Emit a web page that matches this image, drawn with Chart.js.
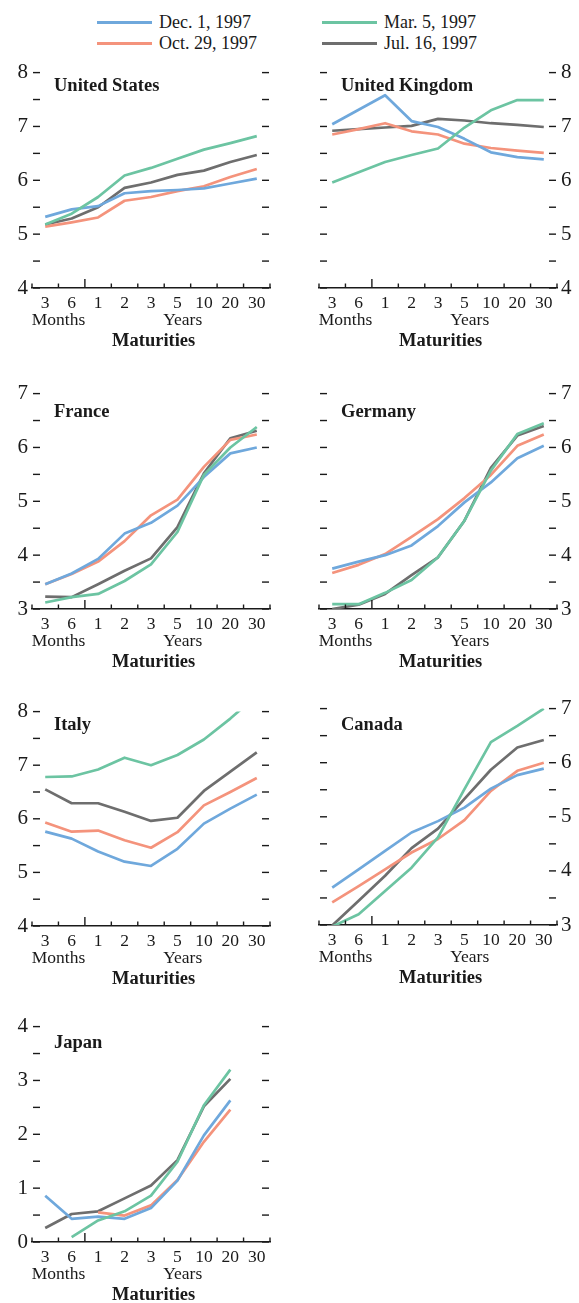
<!DOCTYPE html>
<html>
<head>
<meta charset="utf-8">
<script src="https://cdn.jsdelivr.net/npm/chart.js@4.4.1/dist/chart.umd.min.js"></script>
<style>
  html, body { margin: 0; padding: 0; background: #fff; width: 579px; height: 1303px; overflow: hidden; }
  #wrap { position: relative; width: 579px; height: 1303px; }
  canvas { position: absolute; }
  .lg { position: absolute; font-family: "Liberation Serif", "Times New Roman", serif; font-size: 18px; color: #1a1a1a; line-height: 20px; white-space: nowrap; }
  .sw { position: absolute; height: 3px; }
</style>
</head>
<body>
<div id="wrap"></div>
<script>
// ---------------- DATA ----------------
const categories = ['3', '6', '1', '2', '3', '5', '10', '20', '30'];
const seriesNames = ['Dec. 1, 1997', 'Mar. 5, 1997', 'Oct. 29, 1997', 'Jul. 16, 1997'];

const US_DEC1  = [5.32, 5.46, 5.52, 5.76, 5.80, 5.82, 5.85, 5.94, 6.03];
const US_MAR5  = [5.18, 5.38, 5.69, 6.09, 6.23, 6.40, 6.57, 6.69, 6.82];
const US_OCT29 = [5.14, 5.22, 5.31, 5.62, 5.69, 5.80, 5.89, 6.06, 6.21];
const US_JUL16 = [5.18, 5.29, 5.50, 5.86, 5.96, 6.10, 6.18, 6.34, 6.47];

const UK_DEC1  = [7.04, 7.31, 7.58, 7.10, 6.99, 6.77, 6.52, 6.43, 6.39];
const UK_MAR5  = [5.96, 6.15, 6.34, 6.47, 6.59, 6.98, 7.30, 7.49, 7.49];
const UK_OCT29 = [6.85, 6.95, 7.06, 6.91, 6.85, 6.68, 6.60, 6.55, 6.51];
const UK_JUL16 = [6.92, 6.95, 6.98, 7.01, 7.14, 7.11, 7.06, 7.03, 6.99];

const FR_DEC1  = [3.46, 3.66, 3.93, 4.40, 4.60, 4.92, 5.45, 5.89, 6.00];
const FR_MAR5  = [3.12, 3.22, 3.28, 3.52, 3.83, 4.43, 5.49, 6.00, 6.38];
const FR_OCT29 = [3.46, 3.65, 3.88, 4.26, 4.74, 5.03, 5.64, 6.14, 6.24];
const FR_JUL16 = [3.23, 3.22, 3.46, 3.71, 3.94, 4.52, 5.52, 6.17, 6.31];

const DE_DEC1  = [3.75, 3.88, 4.00, 4.18, 4.54, 4.98, 5.35, 5.80, 6.03];
const DE_MAR5  = [3.09, 3.09, 3.30, 3.54, 3.96, 4.64, 5.57, 6.25, 6.45];
const DE_OCT29 = [3.67, 3.82, 4.02, 4.34, 4.67, 5.06, 5.49, 6.03, 6.24];
const DE_JUL16 = [3.00, 3.08, 3.28, 3.63, 3.96, 4.64, 5.62, 6.22, 6.40];

const IT_DEC1  = [5.76, 5.63, 5.39, 5.20, 5.12, 5.44, 5.91, 6.19, 6.45];
const IT_MAR5  = [6.78, 6.79, 6.92, 7.14, 7.00, 7.19, 7.48, 7.87, 8.30];
const IT_OCT29 = [5.93, 5.76, 5.78, 5.60, 5.46, 5.75, 6.25, 6.50, 6.76];
const IT_JUL16 = [6.55, 6.29, 6.29, 6.13, 5.96, 6.02, 6.52, 6.88, 7.24];

const CA_DEC1  = [3.69, 4.03, 4.37, 4.71, 4.92, 5.17, 5.52, 5.77, 5.89];
const CA_MAR5  = [2.97, 3.20, 3.63, 4.06, 4.62, 5.51, 6.38, 6.68, 7.00];
const CA_OCT29 = [3.42, 3.72, 4.03, 4.34, 4.59, 4.94, 5.48, 5.85, 6.00];
const CA_JUL16 = [2.99, 3.45, 3.91, 4.42, 4.78, 5.33, 5.87, 6.28, 6.42];

const JP_DEC1  = [0.86, 0.43, 0.47, 0.43, 0.63, 1.14, 1.98, 2.63, null];
const JP_MAR5  = [null, 0.09, 0.40, 0.57, 0.86, 1.49, 2.54, 3.20, null];
const JP_OCT29 = [null, null, 0.55, 0.49, 0.68, 1.15, 1.86, 2.46, null];
const JP_JUL16 = [0.26, 0.52, 0.57, 0.81, 1.05, 1.52, 2.52, 3.03, null];

// ---------------- STYLE / LAYOUT ----------------
const COLORS = { dec: '#6fa8dc', mar: '#6cc4a2', oct: '#f4937c', jul: '#6e6e6e' };
const SERIF = '"Liberation Serif", "Times New Roman", serif';
const INK = '#1a1a1a';

const panels = [
  { name: 'United States',  col: 0, top: 71.5,  bottom: 287.5,  min: 4, max: 8, titleDy: 18, d: [US_DEC1, US_MAR5, US_OCT29, US_JUL16] },
  { name: 'United Kingdom', col: 1, top: 71.5,  bottom: 287.5,  min: 4, max: 8, titleDy: 18, d: [UK_DEC1, UK_MAR5, UK_OCT29, UK_JUL16] },
  { name: 'France',         col: 0, top: 392.7, bottom: 609,    min: 3, max: 7, titleDy: 23, d: [FR_DEC1, FR_MAR5, FR_OCT29, FR_JUL16] },
  { name: 'Germany',        col: 1, top: 392.7, bottom: 609,    min: 3, max: 7, titleDy: 23, d: [DE_DEC1, DE_MAR5, DE_OCT29, DE_JUL16] },
  { name: 'Italy',          col: 0, top: 711,   bottom: 926,    min: 4, max: 8, titleDy: 18, d: [IT_DEC1, IT_MAR5, IT_OCT29, IT_JUL16] },
  { name: 'Canada',         col: 1, top: 707.7, bottom: 924.3,  min: 3, max: 7, titleDy: 21, d: [CA_DEC1, CA_MAR5, CA_OCT29, CA_JUL16] },
  { name: 'Japan',          col: 0, top: 1026,  bottom: 1242.3, min: 0, max: 4, titleDy: 21, d: [JP_DEC1, JP_MAR5, JP_OCT29, JP_JUL16] }
];

const PAD_TOP = 16;
const X_AXIS_H = 66;

// ---------------- LEGEND (HTML) ----------------
const wrap = document.getElementById('wrap');
const legendItems = [
  { label: seriesNames[0], color: COLORS.dec, x: 97,  y: 22.7 },
  { label: seriesNames[1], color: COLORS.mar, x: 322, y: 22.7 },
  { label: seriesNames[2], color: COLORS.oct, x: 97,  y: 43.7 },
  { label: seriesNames[3], color: COLORS.jul, x: 322, y: 43.7 }
];
legendItems.forEach(it => {
  const sw = document.createElement('div');
  sw.className = 'sw';
  sw.style.left = it.x + 'px';
  sw.style.top = (it.y - 1.5) + 'px';
  sw.style.width = '55px';
  sw.style.background = it.color;
  wrap.appendChild(sw);
  const t = document.createElement('div');
  t.className = 'lg';
  t.style.left = (it.x + 62) + 'px';
  t.style.top = (it.y - 11) + 'px';
  t.textContent = it.label;
  wrap.appendChild(t);
});

// ---------------- DECORATION PLUGIN ----------------
const decor = {
  id: 'decor',
  afterDraw(chart, args, opts) {
    const { ctx, chartArea: a } = chart;
    const x = chart.scales.x, y = chart.scales.y;
    const seg = (x1, y1, x2, y2) => { ctx.beginPath(); ctx.moveTo(x1, y1); ctx.lineTo(x2, y2); ctx.stroke(); };
    ctx.save();
    ctx.strokeStyle = INK;
    ctx.lineWidth = 1.4;
    // y-tick dashes on both inner sides
    y.ticks.forEach(t => {
      const py = y.getPixelForValue(t.value);
      seg(a.left + 1, py, a.left + 8, py);
      seg(a.right - 8, py, a.right - 1, py);
    });
    // x boundary ticks pointing up
    const step = x.getPixelForValue(1) - x.getPixelForValue(0);
    const x0 = x.getPixelForValue(0) - step / 2;
    for (let i = 0; i <= categories.length; i++) {
      const px = x0 + i * step;
      seg(px, a.bottom, px, a.bottom - (i === 2 ? 9 : 4.5));
    }
    // texts
    ctx.fillStyle = INK;
    ctx.textBaseline = 'alphabetic';
    ctx.textAlign = 'left';
    ctx.font = 'bold 18.5px ' + SERIF;
    ctx.fillText(opts.title, a.left + 22, a.top + opts.titleDy);
    ctx.textAlign = 'center';
    ctx.font = '17.5px ' + SERIF;
    ctx.fillText('Months', x.getPixelForValue(0) + step / 2, a.bottom + 37);
    ctx.fillText('Years', x.getPixelForValue(5) + 0.2 * step, a.bottom + 37);
    ctx.font = 'bold 18.5px ' + SERIF;
    ctx.fillText('Maturities', x.getPixelForValue(4) + 0.1 * step, a.bottom + 58);
    ctx.restore();
  }
};

// ---------------- CHARTS ----------------
panels.forEach(p => {
  const left = p.col === 0 ? 0 : 290;
  const width = p.col === 0 ? 290 : 289;
  const areaTop = Math.round(p.top);
  const areaH = Math.round(p.bottom - p.top);
  const cv = document.createElement('canvas');
  cv.width = width;
  cv.height = areaH + PAD_TOP + X_AXIS_H;
  cv.style.left = left + 'px';
  cv.style.top = (areaTop - PAD_TOP) + 'px';
  cv.style.width = width + 'px';
  cv.style.height = cv.height + 'px';
  wrap.appendChild(cv);

  const mk = (data, color) => ({
    data: data, borderColor: color, backgroundColor: color,
    borderWidth: 2.7, pointRadius: 0, pointHoverRadius: 0, tension: 0, fill: false,
    borderJoinStyle: 'round', borderCapStyle: 'butt'
  });

  new Chart(cv, {
    type: 'line',
    data: {
      labels: categories,
      // index 0 is drawn on top
      datasets: [
        Object.assign(mk(p.d[1], COLORS.mar), { label: seriesNames[1] }),
        Object.assign(mk(p.d[0], COLORS.dec), { label: seriesNames[0] }),
        Object.assign(mk(p.d[2], COLORS.oct), { label: seriesNames[2] }),
        Object.assign(mk(p.d[3], COLORS.jul), { label: seriesNames[3] })
      ]
    },
    options: {
      responsive: false,
      animation: false,
      events: [],
      layout: {
        padding: p.col === 0 ? { top: PAD_TOP, left: 0, right: 20, bottom: 0 }
                             : { top: PAD_TOP, left: 29, right: 0, bottom: 0 }
      },
      plugins: {
        legend: { display: false },
        tooltip: { enabled: false },
        decor: { title: p.name, titleDy: p.titleDy }
      },
      scales: {
        x: {
          type: 'category',
          offset: true,
          grid: { display: false, drawTicks: false, tickLength: 0 },
          border: { display: true, color: INK, width: 1.5 },
          ticks: {
            autoSkip: false, maxRotation: 0, minRotation: 0, padding: 5,
            color: INK, font: { family: SERIF, size: 17.5 }
          },
          afterFit: s => { s.height = X_AXIS_H; }
        },
        y: {
          position: p.col === 0 ? 'left' : 'right',
          min: p.min, max: p.max,
          grid: { display: false, drawTicks: false, tickLength: 0 },
          border: { display: false },
          ticks: {
            stepSize: 0.5, autoSkip: false, padding: 4,
            color: INK, font: { family: SERIF, size: 21 },
            callback: v => (Math.abs(v - Math.round(v)) < 1e-9 ? String(Math.round(v)) : '')
          },
          afterFit: s => { s.width = p.col === 0 ? 32 : 22; }
        }
      }
    },
    plugins: [decor]
  });
});
</script>
</body>
</html>
